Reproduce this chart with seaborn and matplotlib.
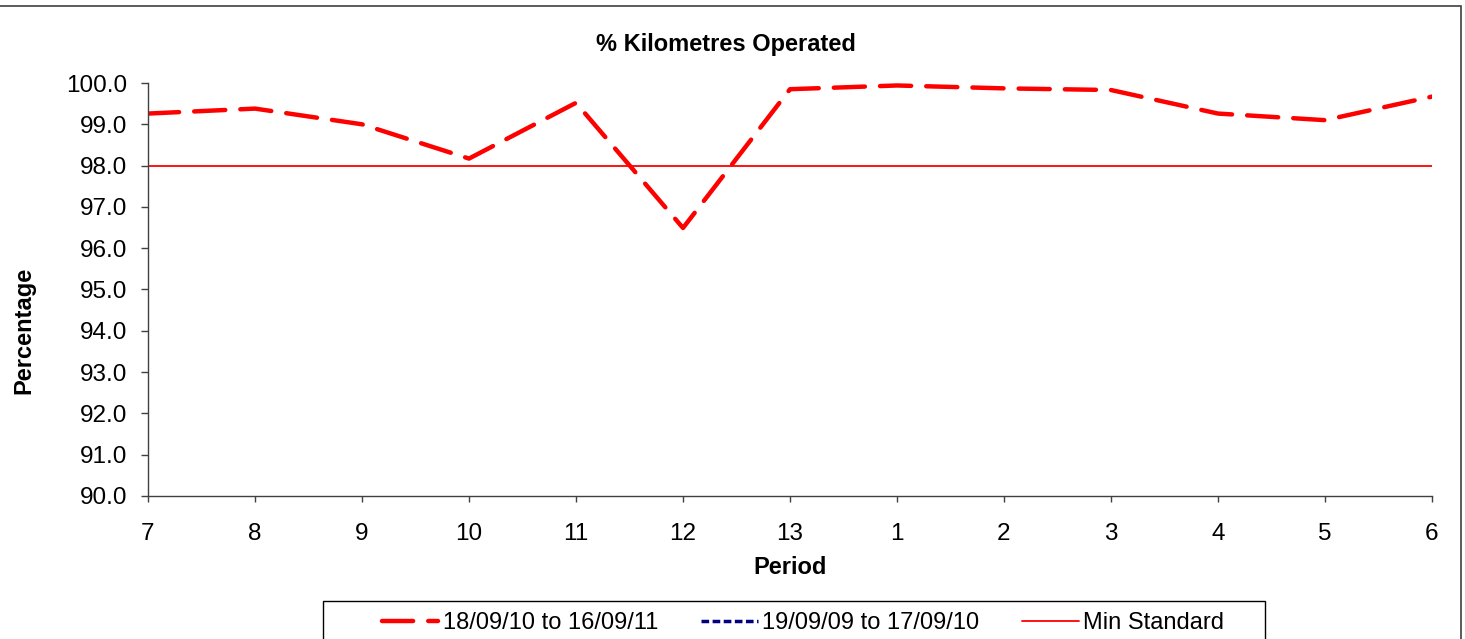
import matplotlib
matplotlib.use("Agg")
import matplotlib.pyplot as plt
import seaborn as sns
import numpy as np
import pandas as pd
from matplotlib.lines import Line2D
from matplotlib.patches import Rectangle

periods = ["7", "8", "9", "10", "11", "12", "13", "1", "2", "3", "4", "5", "6"]
series_current = [99.26, 99.38, 99.0, 98.17, 99.52, 96.49, 99.85, 99.94, 99.87, 99.83, 99.26, 99.1, 99.67]
series_previous = [np.nan] * 13
min_standard = [98.0] * 13
labels = ["18/09/10 to 16/09/11", "19/09/09 to 17/09/10", "Min Standard"]

sns.set_theme(style="white")
plt.rcParams["font.family"] = ["Liberation Sans", "DejaVu Sans"]
plt.rcParams["text.color"] = "black"
plt.rcParams["axes.labelcolor"] = "black"

W, H = 1465, 639
fig = plt.figure(figsize=(W / 100, H / 100), dpi=100)
ax = fig.add_axes([148 / W, 1 - 496 / H, (1432 - 148) / W, (496 - 83) / H])

x = np.arange(len(periods))
df = pd.DataFrame({"x": x, "cur": series_current, "prev": series_previous, "min": min_standard})

sns.lineplot(data=df, x="x", y="min", ax=ax, color="#ff0000", linewidth=1.3, label=labels[2])
sns.lineplot(data=df, x="x", y="cur", ax=ax, color="#ff0000", linewidth=3.2,
             dashes=False, label=labels[0])
line_cur = ax.lines[-1]
line_cur.set_dashes((7, 3.4))
line_cur.set_dash_capstyle("round")
ax.plot(x, series_previous, color="#000080", linewidth=2.5, linestyle=(0, (2.5, 1.2)), label=labels[1])

ax.set_xlim(0, 12)
ax.set_ylim(90, 100)
yt = np.arange(90, 100.01, 1.0)
ax.set_yticks(yt)
ax.set_yticklabels([f"{v:.1f}" for v in yt], fontsize=17.5)
ax.set_xticks(x)
ax.set_xticklabels(periods, fontsize=17.5)
ax.tick_params(axis="y", direction="out", length=5, width=1, color="#404040",
               left=True, pad=10, labelcolor="black")
ax.tick_params(axis="x", direction="out", length=4.5, width=1, color="#404040",
               bottom=True, pad=15, labelcolor="black")
for s in ["top", "right"]:
    ax.spines[s].set_visible(False)
for s in ["left", "bottom"]:
    ax.spines[s].set_color("#404040")
    ax.spines[s].set_linewidth(1)

ax.set_xlabel("Period", fontsize=17, fontweight="bold", va="center")
ax.xaxis.set_label_coords((790 - 148) / 1284, (496 - 568) / 413)
ax.set_ylabel("Percentage", fontsize=17, fontweight="bold", va="center", ha="center")
ax.yaxis.set_label_coords((24 - 148) / 1284, (496 - 330) / 413)
fig.text(726 / W, 1 - 45 / H, "% Kilometres Operated", fontsize=17, fontweight="bold",
         ha="center", va="center")

if ax.get_legend() is not None:
    ax.get_legend().remove()

handles = [
    Line2D([], [], color="#ff0000", linewidth=3.2, dashes=(7, 3.4), dash_capstyle="round"),
    Line2D([], [], color="#000080", linewidth=2.5, linestyle=(0, (2.2, 1.0))),
    Line2D([], [], color="#ff0000", linewidth=1.3),
]
leg = fig.legend(handles, labels, loc="center", bbox_to_anchor=(803 / W, 1 - 623 / H),
                 ncol=3, fontsize=17, frameon=False,
                 handlelength=2.4, handletextpad=0.2, columnspacing=1.8, borderpad=0)

fig.patches.append(Rectangle((323 / W, -0.1), (1265 - 323) / W, 0.1 + (1 - 601 / H),
                             transform=fig.transFigure, fill=False, edgecolor="black",
                             linewidth=1, figure=fig))
fig.patches.append(Rectangle((-0.01, -0.1), 1461 / W + 0.01, 1 - 6 / H + 0.1,
                             transform=fig.transFigure, fill=False, edgecolor="#404040",
                             linewidth=1.2, figure=fig))

fig.savefig("out.png", dpi=100)
